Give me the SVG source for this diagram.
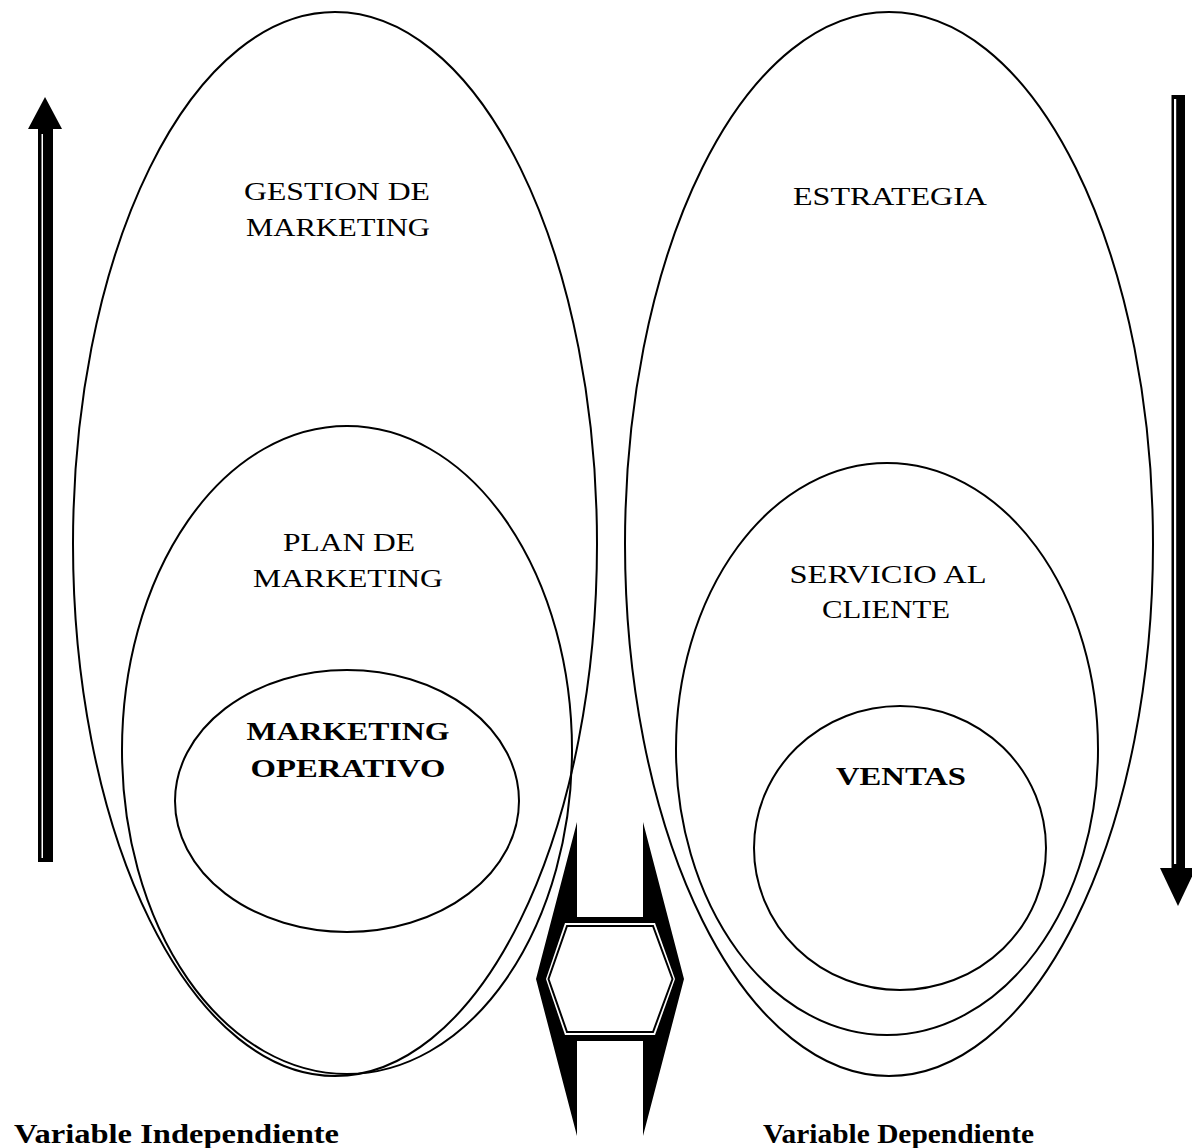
<svg xmlns="http://www.w3.org/2000/svg" width="1192" height="1148" viewBox="0 0 1192 1148">
  <style>
    .ring { fill: none; stroke: #000; stroke-width: 2; }
    .lbl { font-family: "Liberation Serif", "Times New Roman", serif; font-size: 26px; fill: #000; text-anchor: middle; }
    .bold { font-weight: bold; }
    .cap { font-family: "Liberation Serif", "Times New Roman", serif; font-size: 27px; font-weight: bold; fill: #000; }
  </style>
  <rect width="1192" height="1148" fill="#fff"/>

  <!-- left column: nested ellipses -->
  <g id="gestion-marketing">
    <ellipse class="ring" cx="335" cy="544" rx="262" ry="532"/>
    <text class="lbl" x="337" y="200" textLength="186" lengthAdjust="spacingAndGlyphs">GESTION DE</text>
    <text class="lbl" x="338" y="236" textLength="184" lengthAdjust="spacingAndGlyphs">MARKETING</text>
  </g>
  <g id="plan-marketing">
    <ellipse class="ring" cx="347" cy="750" rx="225" ry="324"/>
    <text class="lbl" x="349" y="551" textLength="132" lengthAdjust="spacingAndGlyphs">PLAN DE</text>
    <text class="lbl" x="348" y="587" textLength="190" lengthAdjust="spacingAndGlyphs">MARKETING</text>
  </g>
  <g id="marketing-operativo">
    <ellipse class="ring" cx="347" cy="801" rx="172" ry="131"/>
    <text class="lbl bold" x="348" y="740" textLength="203" lengthAdjust="spacingAndGlyphs">MARKETING</text>
    <text class="lbl bold" x="348" y="777" textLength="195" lengthAdjust="spacingAndGlyphs">OPERATIVO</text>
  </g>

  <!-- right column: nested ellipses -->
  <g id="estrategia">
    <ellipse class="ring" cx="889" cy="544" rx="264" ry="532"/>
    <text class="lbl" x="890" y="205" textLength="194" lengthAdjust="spacingAndGlyphs">ESTRATEGIA</text>
  </g>
  <g id="servicio-cliente">
    <ellipse class="ring" cx="887" cy="749" rx="211" ry="286"/>
    <text class="lbl" x="888" y="583" textLength="197" lengthAdjust="spacingAndGlyphs">SERVICIO AL</text>
    <text class="lbl" x="886" y="618" textLength="128" lengthAdjust="spacingAndGlyphs">CLIENTE</text>
  </g>
  <g id="ventas">
    <ellipse class="ring" cx="900" cy="848" rx="146" ry="142"/>
    <text class="lbl bold" x="901" y="785" textLength="130" lengthAdjust="spacingAndGlyphs">VENTAS</text>
  </g>

  <!-- arrows -->
  <g id="connectors">
    <!-- upward arrow, left margin -->
    <g id="arrow-up">
      <polygon points="45,97 62,129 28,129" fill="#000"/>
      <rect x="38" y="128" width="15" height="734" fill="#000"/>
      <rect x="41.5" y="134" width="1.5" height="724" fill="#fff"/>
    </g>
    <!-- downward arrow, right margin -->
    <g id="arrow-down">
      <rect x="1171.5" y="95" width="13.5" height="775" fill="#000"/>
      <rect x="1174" y="99" width="2.2" height="765" fill="#fff"/>
      <polygon points="1160,868 1196,868 1178,906" fill="#000"/>
    </g>
    <!-- two-way link between the columns -->
    <g id="link">
      <path d="M577,822 L536,979 L577,1136 L577,1041 L643,1041 L643,1136 L684,979 L643,822 L643,917 L577,917 Z" fill="#000"/>
      <polygon points="565,923 655,923 675,979 655,1035 565,1035 546,979" fill="#fff"/>
      <polygon points="567,926 653,926 672.5,979 653,1032 567,1032 548.5,979" fill="#fff" stroke="#000" stroke-width="2"/>
    </g>
  </g>

  <!-- captions -->
  <text class="cap" x="14" y="1143" textLength="325" lengthAdjust="spacingAndGlyphs">Variable Independiente</text>
  <text class="cap" x="763" y="1143" textLength="271" lengthAdjust="spacingAndGlyphs">Variable Dependiente</text>
</svg>
